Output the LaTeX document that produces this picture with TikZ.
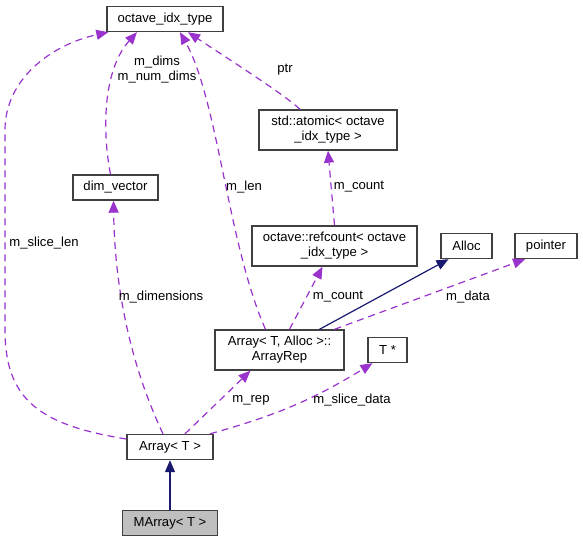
\documentclass[tikz,border=0pt]{standalone}
\usepackage{fontspec}
\setmainfont{Liberation Sans}
\usepackage{tikz}
\usetikzlibrary{arrows.meta,calc}
\definecolor{usepurple}{HTML}{9A32CD}
\definecolor{inhnavy}{HTML}{191970}

\begin{document}
\begin{tikzpicture}[
	x=1pt,y=-1pt,
	every node/.style={font=\fontsize{13.1}{15}\selectfont},
	cls/.style={draw=black!75,line width=1.4pt,fill=white,align=center,inner sep=0pt,minimum height=25pt},
	cls2/.style={cls,minimum height=40pt},
	lbl/.style={align=center,inner sep=1pt},
	usage/.style={usepurple,line width=1.2pt,dash pattern=on 7pt off 5pt,-{Triangle[length=12pt,width=10pt]}},
	inherit/.style={inhnavy,line width=1.2pt,-{Triangle[length=12pt,width=10pt]}},
]
	\useasboundingbox (0,0) rectangle (583,541);

	\node[cls,minimum width=116pt] at (165,19) (idx) {octave\_idx\_type};
	\node[cls,minimum width=85pt] at (115.5,187.5) (dimv) {dim\_vector};
	\node[cls2,minimum width=138pt] at (328,130) (atomic) {std::atomic< octave\\\_idx\_type >};
	\node[cls2,minimum width=165pt] at (334.5,246) (refc) {octave::refcount< octave\\\_idx\_type >};
	\node[cls,minimum width=51pt] at (466.5,246) (alloc) {Alloc};
	\node[cls,minimum width=62pt] at (546,246) (ptr) {pointer};
	\node[cls2,minimum width=129pt] at (279.5,350) (rep) {Array< T, Alloc >::\\ArrayRep};
	\node[cls,minimum width=39pt] at (387.5,350) (tptr) {T *};
	\node[cls,minimum width=86pt] at (170,447) (arr) {Array< T >};
	\node[cls,minimum width=95pt,fill=black!25] at (170,523) (marr) {MArray< T >};

	% inheritance
	\draw[inherit] (marr) -- (arr);
	\draw[inherit] ([xshift=40pt]rep.north) -- ([xshift=-18pt]alloc.south);

	% members
	\draw[usage] ([yshift=8pt]arr.west) .. controls (40,425) and (5,400) .. (5,330) -- (5,130) .. controls (5,80) and (50,45) .. ([xshift=2pt]idx.south west);
	\draw[usage] ([xshift=-5pt]dimv.north) .. controls (102,130) and (103,70) .. ([xshift=-28pt]idx.south);
	\draw[usage] ([xshift=-14pt]rep.north) .. controls (228,245) and (218,100) .. ([xshift=15pt]idx.south);
	\draw[usage] ([xshift=-28pt]atomic.north) .. controls (285,95) and (230,60) .. ([xshift=23pt]idx.south);
	\draw[usage] (refc.north) -- (atomic.south);
	\draw[usage] ([xshift=10pt]rep.north) -- ([xshift=-12pt]refc.south);
	\draw[usage] ([xshift=55pt]rep.north) -- ([xshift=-21pt]ptr.south);
	\draw[usage] ([xshift=-7pt]arr.north) .. controls (140,385) and (115,310) .. ([xshift=-2pt]dimv.south);
	\draw[usage] ([xshift=15pt]arr.north) -- ([xshift=-29pt]rep.south);
	\draw[usage] ([xshift=40pt]arr.north) to[bend right=8] ([xshift=-15pt]tptr.south);

	\node[lbl] at (44,243) (lslice) {m\_slice\_len};
	\node[lbl] at (157,70) (ldims) {m\_dims\\m\_num\_dims};
	\node[lbl] at (285,70) (lptr) {ptr};
	\node[lbl] at (244,187) (llen) {m\_len};
	\node[lbl] at (359,187) (lcount1) {m\_count};
	\node[lbl] at (338,297) (lcount2) {m\_count};
	\node[lbl] at (468,297) (ldata) {m\_data};
	\node[lbl] at (161,297) (ldim) {m\_dimensions};
	\node[lbl] at (251,400) (lrep) {m\_rep};
	\node[lbl] at (352,400) (lsdata) {m\_slice\_data};
\end{tikzpicture}
\end{document}
